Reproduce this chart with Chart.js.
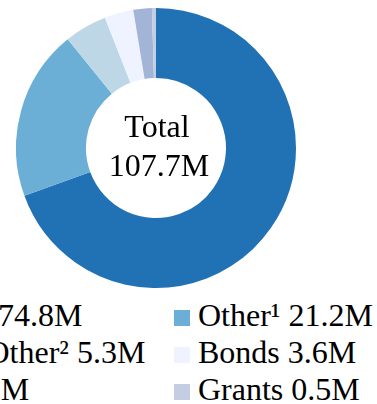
<!DOCTYPE html>
<html>
<head>
<meta charset="utf-8">
<script src="https://cdn.jsdelivr.net/npm/chart.js@4/dist/chart.umd.min.js"></script>
<style>
  html, body {
    margin: 0;
    padding: 0;
    width: 377px;
    height: 404px;
    overflow: hidden;
    background: #fff;
    position: relative;
    font-family: "Liberation Serif", "Times New Roman", serif;
  }
  #wrap {
    position: absolute;
    left: 16px;
    top: 8px;
    width: 280px;
    height: 280px;
  }
  #legend {
    position: absolute;
    left: -146px;
    top: 297px;
    display: grid;
    grid-template-columns: 320px auto;
    grid-auto-rows: 37px;
    font-size: 32px;
    line-height: 37px;
    color: #000;
    white-space: nowrap;
  }
  .item { display: flex; align-items: center; }
  .sw {
    flex: none;
    width: 16px;
    height: 16px;
    margin-right: 8px;
    position: relative;
    top: 2px;
  }
</style>
</head>
<body>
<div id="wrap"><canvas id="chart"></canvas></div>
<div id="legend"></div>
<script>
// Funding sources, in millions
const categories = ['Deposits', 'Other¹', 'Sales & Other²', 'Bonds', 'Notes', 'Grants'];
const values = [74.8, 21.2, 5.3, 3.6, 2.3, 0.5];
const colors = ['#2171b5', '#6baed6', '#bdd7e7', '#eff3ff', '#a3b5d6', '#c4cde2'];

const total = values.reduce((a, b) => a + b, 0);
const fmt = v => v.toFixed(1) + 'M';

// Total printed in the hole of the ring
const centerText = {
  id: 'centerText',
  afterDraw(chart) {
    const arc = chart.getDatasetMeta(0).data[0];
    if (!arc) return;
    const { x, y } = arc;
    const ctx = chart.ctx;
    ctx.save();
    ctx.fillStyle = '#000';
    ctx.font = '32px "Liberation Serif", "Times New Roman", serif';
    ctx.textAlign = 'center';
    ctx.textBaseline = 'alphabetic';
    ctx.fillText('Total', x + 1, y - 11);
    ctx.fillText(fmt(total), x + 3, y + 28);
    ctx.restore();
  }
};

new Chart(document.getElementById('chart'), {
  type: 'doughnut',
  data: {
    labels: categories,
    datasets: [{
      data: values,
      backgroundColor: colors,
      borderWidth: 0
    }]
  },
  options: {
    responsive: true,
    maintainAspectRatio: false,
    animation: false,
    cutout: '50%',
    layout: { padding: 0 },
    plugins: {
      legend: { display: false },
      tooltip: { enabled: false }
    }
  },
  plugins: [centerText]
});

// Two-column legend: swatch, name and amount
const legend = document.getElementById('legend');
categories.forEach((name, i) => {
  const item = document.createElement('div');
  item.className = 'item';
  const sw = document.createElement('span');
  sw.className = 'sw';
  sw.style.background = colors[i];
  const txt = document.createElement('span');
  txt.textContent = name + ' ' + fmt(values[i]);
  item.appendChild(sw);
  item.appendChild(txt);
  legend.appendChild(item);
});
</script>
</body>
</html>
